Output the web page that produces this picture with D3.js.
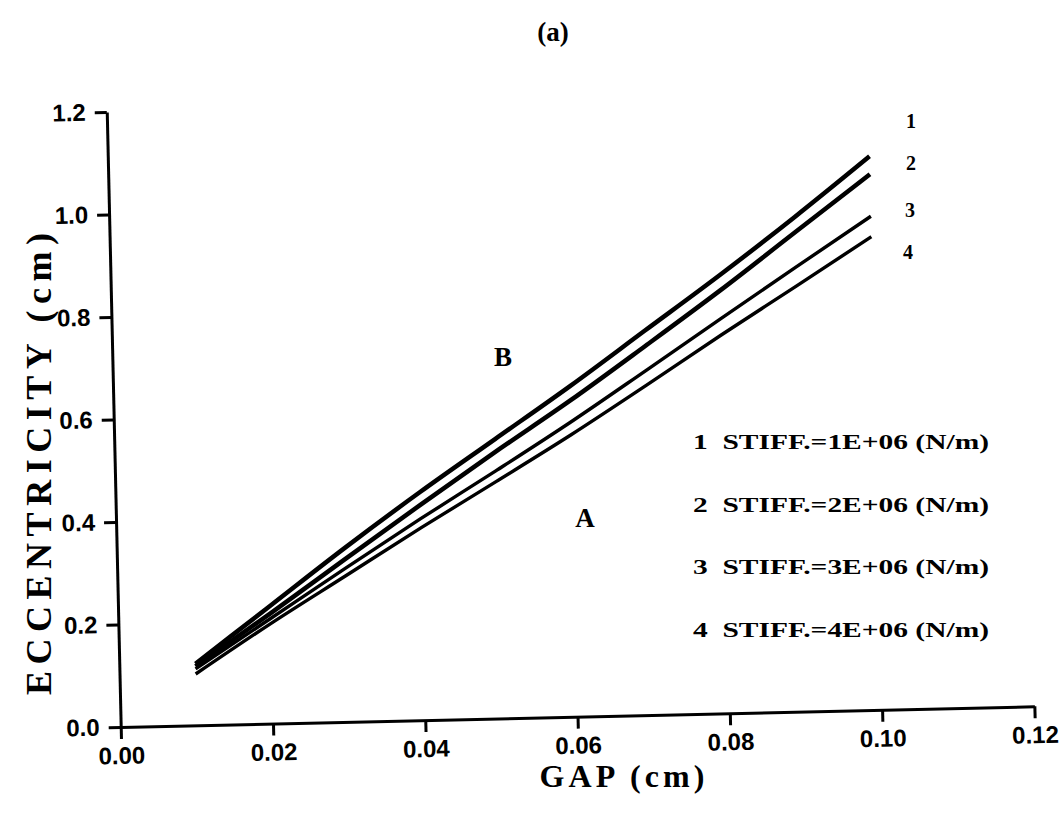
<!DOCTYPE html>
<html>
<head>
<meta charset="utf-8">
<script src="https://cdn.jsdelivr.net/npm/d3@7"></script>
<style>
  html, body { margin: 0; padding: 0; background: #fff; }
  svg { display: block; }
</style>
</head>
<body>
<svg id="chart" width="1064" height="814"></svg>
<script>
// ---- data ----
const gap = [0.01, 0.02, 0.03, 0.04, 0.05, 0.06, 0.07, 0.08, 0.09, 0.10];
const stiff1 = [0.12, 0.23, 0.34, 0.445, 0.545, 0.645, 0.75, 0.855, 0.965, 1.08];
const stiff2 = [0.115, 0.215, 0.318, 0.42, 0.52, 0.617, 0.72, 0.825, 0.935, 1.045];
const stiff3 = [0.11, 0.205, 0.30, 0.393, 0.483, 0.575, 0.672, 0.77, 0.867, 0.963];
const stiff4 = [0.10, 0.195, 0.285, 0.375, 0.462, 0.55, 0.643, 0.738, 0.83, 0.923];
const seriesIds = ["1", "2", "3", "4"];
const legendLabels = [
  "1  STIFF.=1E+06 (N/m)",
  "2  STIFF.=2E+06 (N/m)",
  "3  STIFF.=3E+06 (N/m)",
  "4  STIFF.=4E+06 (N/m)"
];
const xTicks = [0, 0.02, 0.04, 0.06, 0.08, 0.10, 0.12];
const xTickLabels = ["0.00", "0.02", "0.04", "0.06", "0.08", "0.10", "0.12"];
const yTicks = [0, 0.2, 0.4, 0.6, 0.8, 1.0, 1.2];
const yTickLabels = ["0.0", "0.2", "0.4", "0.6", "0.8", "1.0", "1.2"];
const title = "(a)";
const xTitle = "GAP (cm)";
const yTitle = "ECCENTRICITY (cm)";
const regionLabels = ["B", "A"];

// ---- layout ----
const originX = 120.7, originY = 727;
const plotW = 913.9, plotH = 615.1;
const tilt = -1.3; // scanned page is slightly rotated

const sansFont = "'Liberation Sans', Arial, sans-serif";
const serifFont = "'Liberation Serif', 'Times New Roman', serif";

const svg = d3.select("#chart");
svg.append("rect").attr("width", 1064).attr("height", 814).attr("fill", "#fff");

svg.append("text")
  .attr("x", 553).attr("y", 41)
  .attr("text-anchor", "middle")
  .attr("font-family", serifFont)
  .attr("font-weight", "bold")
  .attr("font-size", 27)
  .text(title);

const g = svg.append("g")
  .attr("transform", `translate(${originX},${originY}) rotate(${tilt})`);

const x = d3.scaleLinear().domain([0, 0.12]).range([0, plotW]);
const y = d3.scaleLinear().domain([0, 1.2]).range([0, -plotH]);

const xAxis = d3.axisBottom(x)
  .tickValues(xTicks)
  .tickFormat((d, i) => xTickLabels[i])
  .tickSize(12).tickSizeOuter(0).tickPadding(8);
const yAxis = d3.axisLeft(y)
  .tickValues(yTicks)
  .tickFormat((d, i) => yTickLabels[i])
  .tickSize(12).tickSizeOuter(0).tickPadding(9);

const gx = g.append("g").call(xAxis);
const gy = g.append("g").call(yAxis);
[gx, gy].forEach(a => {
  a.select(".domain").attr("stroke", "#000").attr("stroke-width", 3);
  a.selectAll(".tick line").attr("stroke", "#000").attr("stroke-width", 3);
  a.selectAll(".tick text")
    .attr("fill", "#000")
    .attr("font-family", sansFont)
    .attr("font-weight", "bold")
    .attr("font-size", 24);
});

// ---- lines ----
const seriesVals = [stiff1, stiff2, stiff3, stiff4];
const widths = [4.5, 4.5, 3.4, 3.4];
const line = d3.line().curve(d3.curveMonotoneX).x(d => x(d[0])).y(d => y(d[1]));
seriesVals.forEach((vals, i) => {
  g.append("path")
    .datum(gap.map((gv, j) => [gv, vals[j]]))
    .attr("fill", "none")
    .attr("stroke", "#000")
    .attr("stroke-width", widths[i])
    .attr("stroke-linejoin", "round")
    .attr("d", line);
});

// ---- end labels 1..4 (page coordinates) ----
const endLabelPos = [[911, 128], [911, 170], [910, 217], [908, 259]];
seriesIds.forEach((id, i) => {
  svg.append("text")
    .attr("x", endLabelPos[i][0]).attr("y", endLabelPos[i][1])
    .attr("text-anchor", "middle")
    .attr("font-family", serifFont)
    .attr("font-weight", "bold")
    .attr("font-size", 20)
    .text(id);
});

// ---- legend ----
legendLabels.forEach((lab, i) => {
  svg.append("text")
    .attr("x", 693).attr("y", 449 + i * 62.7)
    .attr("font-family", serifFont)
    .attr("font-weight", "bold")
    .attr("font-size", 22)
    .attr("textLength", 296)
    .attr("lengthAdjust", "spacingAndGlyphs")
    .attr("xml:space", "preserve")
    .text(lab);
});

// ---- region labels ----
const regionPos = [[503, 366], [585, 527]];
regionLabels.forEach((lab, i) => {
  svg.append("text")
    .attr("x", regionPos[i][0]).attr("y", regionPos[i][1])
    .attr("text-anchor", "middle")
    .attr("font-family", serifFont)
    .attr("font-weight", "bold")
    .attr("font-size", 27)
    .text(lab);
});

// ---- axis titles ----
svg.append("text")
  .attr("x", 622).attr("y", 787)
  .attr("text-anchor", "middle")
  .attr("font-family", serifFont)
  .attr("font-weight", "bold")
  .attr("font-size", 32)
  .attr("textLength", 165)
  .attr("lengthAdjust", "spacing")
  .text(xTitle);

svg.append("text")
  .attr("transform", "translate(51,464) rotate(-90)")
  .attr("text-anchor", "middle")
  .attr("font-family", serifFont)
  .attr("font-weight", "bold")
  .attr("font-size", 36)
  .attr("textLength", 462)
  .attr("lengthAdjust", "spacing")
  .text(yTitle);
</script>
</body>
</html>
